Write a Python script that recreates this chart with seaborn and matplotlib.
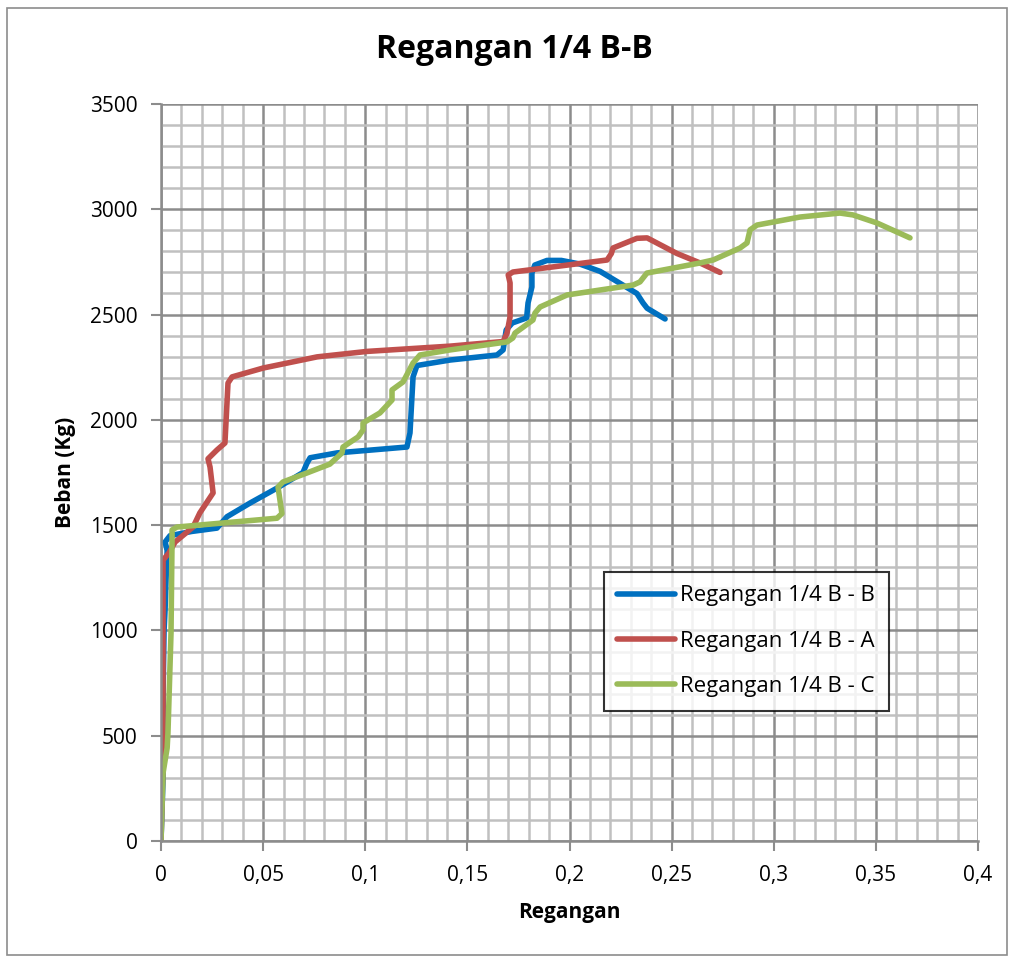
import pandas as pd
import matplotlib
matplotlib.use("Agg")
import matplotlib.pyplot as plt
import seaborn as sns
from matplotlib.ticker import MultipleLocator, FuncFormatter
from matplotlib.patches import Rectangle

# data (regangan vs beban)
b_x = [0, 0.001, 0.001, 0.0015, 0.002, 0.0025, 0.003, 0.002, 0.0044, 0.015, 0.0274, 0.0323, 0.0436,
       0.0568, 0.0695, 0.0715, 0.073, 0.0862, 0.1204, 0.1219, 0.1234, 0.1253, 0.1415, 0.1645, 0.1675,
       0.169, 0.172, 0.179, 0.1797, 0.1816, 0.1816, 0.183, 0.189, 0.196, 0.205, 0.215, 0.221, 0.233,
       0.236, 0.238, 0.2468]
b_y = [0, 300, 700, 1000, 1100, 1250, 1380, 1420, 1450, 1470, 1486, 1540, 1605,
       1676, 1750, 1795, 1820, 1843, 1871, 1938, 2204, 2258, 2284, 2308, 2332,
       2427, 2460, 2484, 2555, 2631, 2697, 2735, 2757, 2757, 2740, 2705, 2670, 2600,
       2555, 2530, 2479]

a_x = [0, 0.0005, 0.001, 0.001, 0.001, 0.004, 0.0069, 0.0157, 0.019, 0.0255, 0.024, 0.023, 0.0274,
       0.0313, 0.0328, 0.0348, 0.05, 0.0764, 0.1009, 0.1415, 0.1675, 0.1694, 0.1709, 0.1709, 0.17,
       0.1723, 0.2184, 0.2205, 0.2213, 0.233, 0.238, 0.2526, 0.2639, 0.2737]
a_y = [0, 200, 385, 800, 1334, 1370, 1420, 1491, 1558, 1653, 1776, 1815, 1857,
       1890, 2175, 2204, 2246, 2299, 2325, 2350, 2372, 2412, 2489, 2650, 2688,
       2702, 2759, 2790, 2816, 2862, 2864, 2790, 2745, 2700]

c_x = [0, 0.001, 0.003, 0.0034, 0.0049, 0.0054, 0.0054, 0.0078, 0.0568, 0.0592, 0.0573, 0.0597,
       0.0715, 0.0827, 0.0886, 0.0891, 0.0965, 0.0989, 0.0989, 0.1072, 0.1131, 0.1131, 0.1185,
       0.1234, 0.1268, 0.1415, 0.1694, 0.1723, 0.1733, 0.1821, 0.1831, 0.1856, 0.1988, 0.2311,
       0.2345, 0.2379, 0.2639, 0.2703, 0.2835, 0.2869, 0.2884, 0.2918, 0.3128, 0.3324, 0.3388,
       0.3505, 0.3667]
c_y = [0, 323, 442, 513, 988, 1429, 1477, 1491, 1533, 1555, 1681, 1705,
       1748, 1790, 1843, 1871, 1919, 1952, 1985, 2033, 2094, 2142, 2180,
       2270, 2308, 2332, 2370, 2389, 2412, 2474, 2507, 2536, 2593, 2640,
       2655, 2697, 2745, 2759, 2816, 2840, 2902, 2925, 2963, 2982, 2973,
       2935, 2864]

series = ["Regangan 1/4 B - B", "Regangan 1/4 B - A", "Regangan 1/4 B - C"]
colors = ["#0070C0", "#C0504D", "#9BBB59"]

df = pd.concat([
    pd.DataFrame({"Regangan": b_x, "Beban": b_y, "Seri": series[0]}),
    pd.DataFrame({"Regangan": a_x, "Beban": a_y, "Seri": series[1]}),
    pd.DataFrame({"Regangan": c_x, "Beban": c_y, "Seri": series[2]}),
], ignore_index=True)

sns.set_style("white")
plt.rcParams["font.family"] = ["Open Sans", "DejaVu Sans"]
plt.rcParams["text.color"] = "black"

fig = plt.figure(figsize=(10.12, 9.59), dpi=100)
ax = fig.add_axes([0.1591, 0.1230, 0.8073, 0.7686])

sns.lineplot(data=df, x="Regangan", y="Beban", hue="Seri", palette=colors,
             sort=False, estimator=None, linewidth=4.0, ax=ax,
             solid_capstyle="round", solid_joinstyle="round")

ax.set_xlim(0, 0.4)
ax.set_ylim(0, 3500)
ax.xaxis.set_major_locator(MultipleLocator(0.05))
ax.xaxis.set_minor_locator(MultipleLocator(0.01))
ax.yaxis.set_major_locator(MultipleLocator(500))
ax.yaxis.set_minor_locator(MultipleLocator(100))
ax.xaxis.set_major_formatter(FuncFormatter(lambda v, p: ("%g" % round(v, 3)).replace(".", ",")))
ax.grid(which="minor", color="#C0C0C0", linewidth=1.8)
ax.grid(which="major", color="#8C8C8C", linewidth=1.8)
ax.set_axisbelow(True)
ax.tick_params(axis="both", which="major", labelsize=15, length=7, width=1.5,
               color="#8C8C8C", labelcolor="black", direction="out",
               bottom=True, left=True, pad=10)
for s in ["left", "bottom"]:
    ax.spines[s].set_color("#8C8C8C")
    ax.spines[s].set_linewidth(1.8)
for s in ["top", "right"]:
    ax.spines[s].set_visible(False)

ax.set_xlabel("Regangan", fontsize=15, fontweight="bold", labelpad=12, color="black")
ax.set_ylabel("Beban (Kg)", fontsize=15, fontweight="bold", labelpad=10, color="black")
fig.text(0.508, 0.948, "Regangan 1/4 B-B", fontsize=23, fontweight="bold",
         ha="center", va="center", color="black")

leg = ax.legend(loc="upper left", bbox_to_anchor=(0.542, 0.365), borderaxespad=0,
                fontsize=16, frameon=True, fancybox=False, handlelength=2.6,
                handletextpad=0.25, labelspacing=1.1, borderpad=0.6)
leg.get_frame().set_edgecolor("black")
leg.get_frame().set_linewidth(1.5)
for ln in leg.get_lines():
    ln.set_linewidth(4)

fig.patches.append(Rectangle((0.007, 0.004), 0.988, 0.988, transform=fig.transFigure,
                             fill=False, edgecolor="#8C8C8C", linewidth=1.2))

fig.savefig("out.png", dpi=100)
